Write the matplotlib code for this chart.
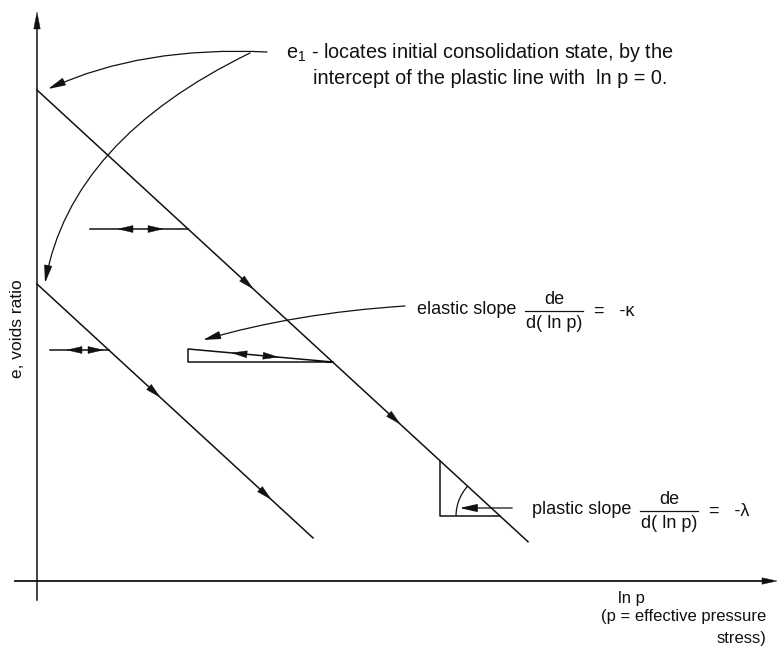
import numpy as np
import matplotlib
matplotlib.use("Agg")
import matplotlib.pyplot as plt
from matplotlib.patches import FancyArrowPatch, Arc
from matplotlib.path import Path

plt.rcParams["font.family"] = ["Liberation Sans", "DejaVu Sans"]
plt.rcParams["mathtext.fontset"] = "custom"
plt.rcParams["mathtext.rm"] = "Liberation Sans"
plt.rcParams["mathtext.it"] = "Liberation Sans:italic"

# ---- schematic values (x = ln p, y = e) ----
LAMBDA = 0.92                      # plastic slope magnitude
E_INTERCEPTS = [4.91, 2.97]        # e at ln p = 0 for the two plastic lines
LINE_ENDS = [4.91, 2.76]           # ln p where each plastic line stops
LINE_ARROWS = [[2.16, 3.63], [1.23, 2.34]]   # arrowhead positions along each line
SWELL_E = [3.52, 2.31]             # e of the horizontal unload/reload lines
SWELL_START = [0.53, 0.13]         # ln p where those lines begin
SWELL_ARROWS = [[0.81, 1.26], [0.30, 0.66]]  # (left-pointing, right-pointing) tips
ELASTIC_X0 = 1.51                  # left edge of the elastic slope triangle
ELASTIC_E = [2.32, 2.19]           # top / bottom of the elastic triangle
ELASTIC_ARROWS = [1.95, 2.41]
PLASTIC_X0 = 4.03                  # vertical leg of the plastic slope triangle
PLASTIC_E0 = 0.65                  # horizontal leg of the plastic slope triangle
ARC_R = 0.44

LW = 1.1
INK = "#111111"
HEAD = "-|>,head_length=1.05,head_width=0.24"

fig = plt.figure(figsize=(7.77, 6.50), dpi=100)
ax = fig.add_axes([0, 0, 1, 1])
ax.set_xlim(-0.37, 7.40)
ax.set_ylim(-0.69, 5.81)
ax.axis("off")


def px(x, y):
    """pixel position -> data coordinates (used for annotation placement)"""
    return (x - 37) / 100.0, (581 - y) / 100.0


def head(tip, direction, length=0.15, width=0.07):
    d = np.asarray(direction, float)
    d = d / np.hypot(*d)
    n = np.array([-d[1], d[0]])
    tip = np.asarray(tip, float)
    base = tip - d * length
    pts = [tip, base + n * width / 2, base - n * width / 2]
    ax.add_patch(plt.Polygon(pts, closed=True, color=INK, lw=0.3, zorder=5))


def plastic_e(i, x):
    return E_INTERCEPTS[i] - LAMBDA * x


# axes with arrowheads
ax.plot([0, 0], [-0.19, 5.60], color=INK, lw=LW)
head((0, 5.69), (0, 1), length=0.17, width=0.065)
ax.plot([-0.22, 7.30], [0, 0], color=INK, lw=LW + 0.2)
head((7.40, 0), (1, 0), length=0.15, width=0.065)

# plastic lines with direction arrows
for i in range(2):
    xs = np.array([0, LINE_ENDS[i]])
    ax.plot(xs, plastic_e(i, xs), color=INK, lw=LW)
    for xa in LINE_ARROWS[i]:
        head((xa, plastic_e(i, xa)), (1, -LAMBDA))

# horizontal unload/reload lines
for i in range(2):
    x_end = (E_INTERCEPTS[i] - SWELL_E[i]) / LAMBDA
    ax.plot([SWELL_START[i], x_end], [SWELL_E[i]] * 2, color=INK, lw=LW)
    left_tip, right_tip = SWELL_ARROWS[i]
    head((left_tip, SWELL_E[i]), (-1, 0))
    head((right_tip, SWELL_E[i]), (1, 0))

# elastic slope triangle
xr = (E_INTERCEPTS[0] - ELASTIC_E[1]) / LAMBDA
ax.plot([xr, ELASTIC_X0, ELASTIC_X0, xr],
        [ELASTIC_E[1], ELASTIC_E[1], ELASTIC_E[0], ELASTIC_E[1]],
        color=INK, lw=LW)
kslope = (ELASTIC_E[0] - ELASTIC_E[1]) / (xr - ELASTIC_X0)


def elastic_e(x):
    return ELASTIC_E[0] - kslope * (x - ELASTIC_X0)


head((ELASTIC_ARROWS[0], elastic_e(ELASTIC_ARROWS[0])), (-1, kslope))
head((ELASTIC_ARROWS[1], elastic_e(ELASTIC_ARROWS[1])), (1, -kslope))

# plastic slope triangle and angle arc
xp = (E_INTERCEPTS[0] - PLASTIC_E0) / LAMBDA
ax.plot([PLASTIC_X0, PLASTIC_X0, xp],
        [plastic_e(0, PLASTIC_X0), PLASTIC_E0, PLASTIC_E0], color=INK, lw=LW)
ang = 180 - np.degrees(np.arctan(LAMBDA))
ax.add_patch(Arc((xp, PLASTIC_E0), 2 * ARC_R, 2 * ARC_R, theta1=ang, theta2=180,
                 color=INK, lw=0.9))


def curved_arrow(p0, c, p1):
    path = Path([px(*p0), px(*c), px(*p1)], [Path.MOVETO, Path.CURVE3, Path.CURVE3])
    ax.add_patch(FancyArrowPatch(path=path, arrowstyle=HEAD,
                                 mutation_scale=10, color=INK, lw=0.9))


# pointers from the e1 note to both intercepts
curved_arrow((267, 52), (142, 46), (48, 89))
curved_arrow((250, 53), (71, 140), (45, 283))
# pointer to the elastic triangle
curved_arrow((405, 306), (296, 313), (203, 340))
# pointer to the plastic angle
ax.annotate("", xy=px(457, 508), xytext=px(515, 508),
            arrowprops=dict(arrowstyle=HEAD, mutation_scale=10, color=INK, lw=0.9))

NOTE_FS = 14.3
SLOPE_FS = 13
AXIS_FS = 12
# annotations
ax.text(*px(286, 53), r"e$_{\mathregular{1}}$ - locates initial consolidation state, by the",
        fontsize=NOTE_FS, va="center", ha="left", color=INK)
ax.text(*px(313, 79), "intercept of the plastic line with  ln p = 0.",
        fontsize=NOTE_FS, va="center", ha="left", color=INK)
ax.text(*px(18, 329), "e, voids ratio", fontsize=12.5, rotation=90,
        va="center", ha="center", color=INK)


def slope_label(x0, y0, name, symbol):
    ax.text(*px(x0, y0), name, fontsize=SLOPE_FS, va="center", ha="left", color=INK)
    cx = x0 + 137
    ax.text(*px(cx, y0 - 11), "de", fontsize=SLOPE_FS, va="center", ha="center", color=INK)
    ax.plot(*zip(px(x0 + 108, y0 + 1), px(x0 + 166, y0 + 1)), color=INK, lw=0.9)
    ax.text(*px(cx, y0 + 13), "d( ln p)", fontsize=SLOPE_FS, va="center", ha="center",
            color=INK)
    ax.text(*px(x0 + 177, y0 + 1), "=   -" + symbol, fontsize=SLOPE_FS, va="center",
            ha="left", color=INK)


slope_label(417, 310, "elastic slope", "κ")
slope_label(532, 510, "plastic slope", "λ")

ax.text(*px(618, 598), "ln p", fontsize=AXIS_FS, va="center", ha="left", color=INK)
ax.text(*px(766, 617), "(p = effective pressure", fontsize=AXIS_FS, va="center",
        ha="right", color=INK)
ax.text(*px(742, 638), "stress)", fontsize=AXIS_FS, va="center", ha="center", color=INK)

fig.savefig("out.png", dpi=100)
